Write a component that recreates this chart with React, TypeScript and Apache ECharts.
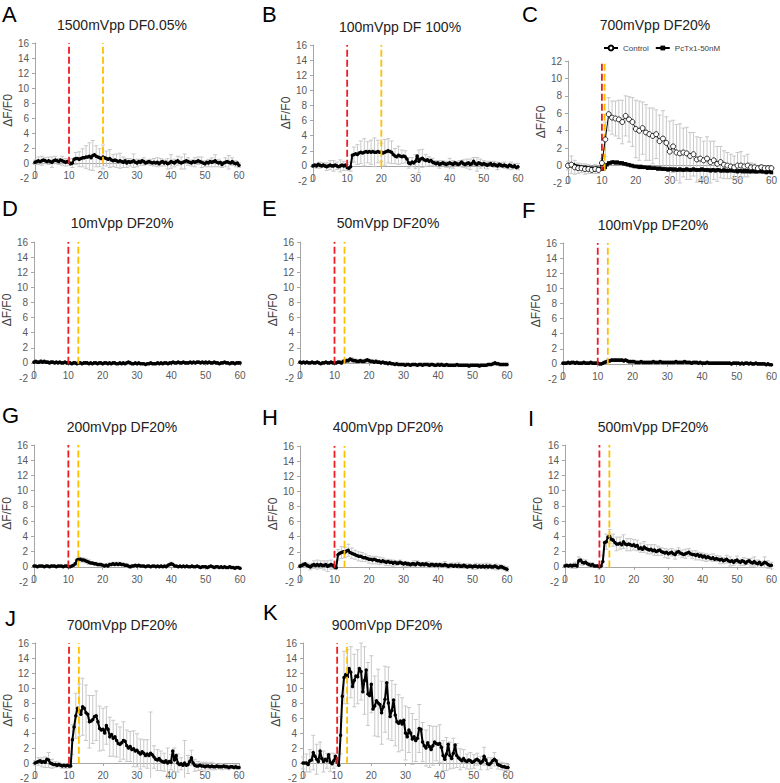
import React, { useEffect, useRef } from "react";
import * as echarts from "echarts";

// ---------------- DATA ----------------
// mean traces sampled every 0.5 s from 0 to 60 s (121 values)
// error values (SD) sampled every 1 s from 0 to 60 s (61 values)
const STEP = 0.5;
const ERR_STEP = 1;

const A_MEAN = [
  0.1, 0.2, 0.3, 0.2, 0.3, 0.4, 0.3, 0.2, 0.3, 0.2,
  0.1, 0.3, 0.4, 0.3, 0.2, 0.4, 0.3, 0.2, 0.1, 0.2,
  0.1, -0.1, 0.0, 0.5, 0.6, 0.6, 0.5, 0.6, 0.7, 0.7,
  0.8, 0.8, 0.9, 0.7, 1.0, 1.1, 0.9, 0.8, 0.7, 0.6,
  0.8, 0.7, 0.6, 0.5, 0.6, 0.4, 0.3, 0.4, 0.3, 0.2,
  0.3, 0.2, 0.1, 0.3, 0.0, 0.2, 0.1, 0.2, 0.3, 0.1,
  0.0, 0.2, 0.1, 0.3, 0.2, 0.0, 0.1, 0.2, 0.1, 0.0,
  0.1, 0.0, 0.1, -0.1, 0.1, 0.2, 0.0, 0.1, -0.1, 0.0,
  0.2, 0.1, 0.0, 0.2, 0.3, 0.1, 0.0, 0.1, 0.2, 0.3,
  0.2, 0.1, 0.0, 0.2, 0.1, 0.2, 0.3, 0.2, 0.1, 0.0,
  -0.1, 0.1, 0.0, 0.2, 0.1, 0.2, 0.3, 0.1, 0.0, 0.1,
  -0.2, 0.0, 0.1, 0.2, 0.1, 0.0, 0.2, 0.0, -0.1, 0.0,
  -0.3,
];
const A_ERR = [
  0.3, 0.5, 0.6, 0.4, 0.5, 0.7, 0.5, 0.4, 0.6, 0.5,
  0.4, 0.6, 0.8, 1.0, 1.2, 1.5, 1.8, 2.0, 1.4, 1.2,
  1.6, 1.0, 1.2, 0.8, 0.9, 1.0, 0.7, 0.6, 0.5, 0.9,
  0.5, 0.4, 0.5, 0.3, 0.4, 0.5, 0.6, 0.5, 0.4, 0.7,
  0.9, 0.5, 0.6, 0.8, 1.0, 0.5, 0.4, 0.6, 0.5, 0.7,
  0.4, 0.5, 0.6, 0.8, 0.5, 0.4, 0.6, 0.9, 0.5, 0.4,
  0.3,
];

const B_MEAN = [
  0.0, 0.1, 0.0, 0.2, 0.1, 0.0, 0.1, 0.0, -0.1, 0.0,
  0.1, 0.0, 0.0, 0.1, 0.0, -0.1, 0.0, 0.1, 0.0, 0.1,
  -0.2, -0.3, -0.1, 1.4, 1.5, 1.6, 1.5, 1.7, 1.8, 1.7,
  1.8, 1.9, 1.8, 1.9, 1.8, 1.9, 1.8, 1.8, 1.9, 1.8,
  1.8, 1.7, 1.8, 1.9, 2.0, 1.9, 1.8, 1.5, 1.3, 1.2,
  1.4, 1.3, 1.2, 1.3, 1.2, 0.9, 0.4, 0.3, 0.5, 0.4,
  0.6, 1.3, 0.6, 0.9, 1.0, 0.8, 0.7, 0.8, 0.6, 0.7,
  0.5, 0.4, 0.3, 0.4, 0.2, 0.3, 0.4, 0.3, 0.2, 0.3,
  0.4, 0.3, 0.2, 0.4, 0.3, 0.2, 0.3, 0.5, 0.3, 0.2,
  0.3, 0.4, 0.2, 0.3, 0.6, 0.3, 0.2, 0.4, 0.3, 0.2,
  0.3, 0.2, 0.1, 0.2, 0.3, 0.1, 0.2, 0.1, 0.0, 0.2,
  0.1, 0.0, 0.1, 0.0, -0.1, 0.1, 0.0, -0.1, 0.0, -0.2,
  -0.1,
];
const B_ERR = [
  0.2, 0.3, 0.4, 0.3, 0.5, 0.6, 0.7, 0.5, 0.8, 0.6,
  0.4, 0.6, 1.0, 1.3, 1.5, 1.8, 1.4, 1.6, 1.9, 1.5,
  1.2, 1.7, 1.6, 1.5, 1.0, 1.2, 0.9, 0.8, 0.7, 0.6,
  0.9, 1.5, 1.2, 0.8, 0.6, 0.5, 0.4, 0.5, 0.3, 0.4,
  0.6, 0.5, 0.3, 0.4, 0.5, 0.6, 0.7, 0.5, 0.9, 0.6,
  0.4, 0.5, 0.3, 0.4, 0.5, 0.3, 0.4, 0.3, 0.5, 0.3,
  0.4,
];

// panel C: control sampled every 1 s, PcTx1 every 0.5 s
const C_CONTROL = [
  0.0, 0.1, -0.2, -0.3, -0.3, -0.4, -0.4, -0.5, -0.4, -0.5,
  0.3, 3.0, 5.9, 5.5, 5.4, 5.3, 5.0, 5.7, 5.3, 5.0,
  4.2, 4.0, 4.3, 3.8, 3.6, 3.4, 3.6, 2.8, 3.1, 2.6,
  1.6, 2.2, 1.5, 1.4, 1.5, 1.4, 1.1, 1.3, 0.7, 0.8,
  0.6, 0.8, 0.4, 0.6, 0.2, 0.4, 0.1, 0.0, -0.1, -0.2,
  0.0, 0.0, -0.1, 0.0, -0.2, -0.2, -0.3, -0.2, -0.3, -0.3,
  -0.3,
];
const C_CONTROL_ERR = [
  0.5, 1.0, 0.8, 0.6, 0.5, 0.6, 0.5, 0.4, 0.5, 0.4,
  0.5, 2.0, 1.9, 1.9, 2.0, 2.2, 2.5, 2.3, 2.6, 2.8,
  3.3, 3.4, 3.0, 3.2, 3.0, 3.2, 2.8, 3.0, 3.2, 3.0,
  3.5, 3.0, 3.2, 3.4, 2.8, 3.0, 2.7, 2.5, 2.6, 2.4,
  2.2, 2.5, 2.4, 2.2, 2.0, 1.8, 1.6, 1.5, 1.4, 1.3,
  1.5, 1.6, 1.2, 1.3, 0.5, 0.4, 0.3, 0.3, 0.2, 0.2,
  0.2,
];
const C_PCTX = [
  0.0, 0.1, 0.0, 0.1, 0.0, -0.1, -0.1, -0.2, -0.2, -0.3,
  -0.2, -0.3, -0.3, -0.4, -0.3, -0.4, -0.4, -0.3, -0.4, -0.4,
  -0.4, -0.4, -0.2, 0.1, 0.3, 0.3, 0.4, 0.4, 0.3, 0.4,
  0.3, 0.3, 0.3, 0.2, 0.2, 0.1, 0.1, 0.0, 0.0, -0.1,
  -0.1, -0.1, -0.2, -0.1, -0.2, -0.2, -0.2, -0.3, -0.2, -0.3,
  -0.3, -0.3, -0.3, -0.4, -0.3, -0.4, -0.4, -0.4, -0.4, -0.5,
  -0.4, -0.4, -0.5, -0.4, -0.5, -0.5, -0.4, -0.5, -0.5, -0.5,
  -0.4, -0.5, -0.5, -0.5, -0.4, -0.5, -0.5, -0.5, -0.5, -0.4,
  -0.5, -0.5, -0.5, -0.5, -0.6, -0.5, -0.5, -0.6, -0.5, -0.5,
  -0.6, -0.6, -0.5, -0.6, -0.6, -0.6, -0.5, -0.6, -0.6, -0.6,
  -0.7, -0.6, -0.6, -0.7, -0.6, -0.7, -0.6, -0.7, -0.7, -0.6,
  -0.7, -0.7, -0.7, -0.6, -0.7, -0.7, -0.7, -0.8, -0.7, -0.7,
  -0.8,
];

const D_MEAN = [
  0.1, 0.2, 0.1, 0.1, 0.2, 0.1, 0.2, 0.1, 0.1, 0.0,
  0.1, 0.1, 0.0, 0.1, 0.0, 0.1, 0.0, 0.0, 0.1, 0.0,
  0.0, 0.0, -0.1, 0.0, 0.0, -0.1, 0.0, 0.0, -0.1, 0.0,
  0.0, 0.0, -0.1, 0.0, -0.1, 0.0, 0.0, -0.1, 0.0, 0.0,
  -0.1, 0.0, 0.0, -0.1, 0.0, -0.1, 0.0, 0.0, -0.1, -0.1,
  0.0, -0.1, 0.0, -0.1, 0.0, 0.1, 0.0, -0.1, -0.1, 0.0,
  -0.1, 0.0, -0.1, -0.1, -0.1, -0.2, -0.1, -0.1, 0.0, -0.1,
  -0.1, -0.1, 0.0, -0.1, 0.0, -0.1, 0.0, 0.0, -0.1, 0.0,
  0.0, 0.1, 0.0, 0.0, 0.1, 0.0, 0.0, 0.1, 0.0, 0.0,
  0.0, 0.1, 0.0, 0.1, 0.0, 0.1, 0.1, 0.0, 0.1, 0.0,
  0.1, 0.0, 0.1, 0.0, 0.0, 0.1, 0.0, 0.0, -0.1, 0.0,
  0.0, 0.1, 0.0, 0.0, -0.1, 0.0, 0.0, -0.1, 0.0, 0.0,
  0.0,
];
const D_ERR = [
  0.1, 0.1, 0.2, 0.1, 0.1, 0.2, 0.1, 0.1, 0.1, 0.1,
  0.1, 0.1, 0.1, 0.2, 0.1, 0.1, 0.1, 0.1, 0.1, 0.1,
  0.1, 0.1, 0.1, 0.1, 0.1, 0.1, 0.1, 0.1, 0.2, 0.1,
  0.1, 0.1, 0.1, 0.1, 0.1, 0.1, 0.1, 0.1, 0.1, 0.1,
  0.1, 0.1, 0.1, 0.1, 0.1, 0.1, 0.1, 0.1, 0.1, 0.1,
  0.1, 0.1, 0.1, 0.1, 0.1, 0.1, 0.1, 0.1, 0.1, 0.1,
  0.1,
];

const E_MEAN = [
  0.1, 0.0, 0.1, 0.0, 0.1, 0.0, 0.0, 0.1, 0.0, 0.0,
  0.1, 0.0, -0.1, 0.0, 0.0, 0.1, 0.0, 0.0, 0.1, 0.0,
  0.0, 0.0, 0.1, 0.1, 0.0, 0.2, 0.2, 0.3, 0.3, 0.5,
  0.4, 0.3, 0.3, 0.2, 0.2, 0.3, 0.2, 0.2, 0.3, 0.4,
  0.3, 0.2, 0.2, 0.1, 0.2, 0.1, 0.1, 0.0, 0.1, 0.0,
  0.0, -0.1, 0.0, -0.1, -0.1, -0.2, -0.1, -0.2, -0.2, -0.2,
  -0.2, -0.3, -0.2, -0.2, -0.3, -0.2, -0.2, -0.2, -0.3, -0.2,
  -0.2, -0.3, -0.2, -0.2, -0.2, -0.3, -0.2, -0.2, -0.3, -0.3,
  -0.2, -0.3, -0.2, -0.3, -0.3, -0.2, -0.3, -0.3, -0.3, -0.3,
  -0.3, -0.2, -0.3, -0.3, -0.3, -0.3, -0.3, -0.3, -0.4, -0.3,
  -0.3, -0.3, -0.3, -0.3, -0.4, -0.3, -0.3, -0.3, -0.3, -0.2,
  -0.2, -0.2, -0.1, 0.0, -0.1, -0.1, -0.2, -0.2, -0.2, -0.2,
  -0.2,
];
const E_ERR = [
  0.1, 0.1, 0.1, 0.1, 0.1, 0.1, 0.1, 0.1, 0.1, 0.1,
  0.1, 0.1, 0.2, 0.2, 0.3, 0.3, 0.2, 0.2, 0.2, 0.2,
  0.2, 0.2, 0.2, 0.2, 0.1, 0.2, 0.2, 0.1, 0.2, 0.2,
  0.2, 0.2, 0.2, 0.2, 0.2, 0.2, 0.2, 0.2, 0.2, 0.2,
  0.2, 0.2, 0.2, 0.2, 0.2, 0.2, 0.2, 0.2, 0.2, 0.2,
  0.2, 0.2, 0.2, 0.2, 0.2, 0.2, 0.2, 0.2, 0.2, 0.2,
  0.2,
];

const F_MEAN = [
  0.1, 0.1, 0.1, 0.2, 0.1, 0.2, 0.2, 0.1, 0.2, 0.1,
  0.1, 0.1, 0.2, 0.1, 0.1, 0.1, 0.2, 0.1, 0.1, 0.1,
  0.1, 0.0, 0.0, 0.1, 0.2, 0.3, 0.4, 0.4, 0.5, 0.5,
  0.5, 0.5, 0.5, 0.5, 0.5, 0.4, 0.5, 0.4, 0.3, 0.3,
  0.3, 0.3, 0.2, 0.2, 0.2, 0.3, 0.2, 0.2, 0.2, 0.2,
  0.2, 0.2, 0.3, 0.2, 0.2, 0.2, 0.3, 0.2, 0.2, 0.2,
  0.2, 0.2, 0.2, 0.2, 0.2, 0.3, 0.2, 0.2, 0.2, 0.2,
  0.3, 0.2, 0.2, 0.2, 0.1, 0.2, 0.2, 0.2, 0.1, 0.2,
  0.1, 0.1, 0.1, 0.2, 0.1, 0.1, 0.1, 0.1, 0.1, 0.1,
  0.1, 0.1, 0.1, 0.1, 0.1, 0.1, 0.1, 0.0, 0.1, 0.1,
  0.1, 0.1, 0.0, 0.1, 0.0, 0.1, 0.1, 0.0, 0.1, 0.0,
  0.0, 0.1, 0.0, 0.0, 0.0, 0.0, 0.0, -0.1, 0.0, -0.1,
  -0.1,
];
const F_ERR = [
  0.1, 0.1, 0.1, 0.1, 0.1, 0.1, 0.1, 0.1, 0.1, 0.1,
  0.1, 0.1, 0.2, 0.2, 0.2, 0.2, 0.2, 0.2, 0.2, 0.2,
  0.2, 0.1, 0.1, 0.1, 0.1, 0.1, 0.1, 0.1, 0.1, 0.1,
  0.1, 0.1, 0.1, 0.1, 0.1, 0.1, 0.1, 0.1, 0.1, 0.1,
  0.1, 0.1, 0.1, 0.1, 0.1, 0.1, 0.1, 0.1, 0.1, 0.1,
  0.1, 0.1, 0.1, 0.1, 0.1, 0.1, 0.1, 0.1, 0.1, 0.1,
  0.1,
];

const G_MEAN = [
  0.1, 0.1, 0.0, 0.1, 0.1, 0.1, 0.0, 0.1, 0.1, 0.0,
  0.1, 0.1, 0.1, 0.0, 0.1, 0.1, 0.1, 0.0, 0.1, 0.1,
  0.0, 0.0, 0.1, 0.2, 0.4, 0.9, 1.0, 1.0, 0.9, 0.9,
  0.8, 0.7, 0.6, 0.5, 0.5, 0.4, 0.4, 0.3, 0.3, 0.3,
  0.2, 0.1, 0.2, 0.1, 0.3, 0.3, 0.4, 0.3, 0.4, 0.3,
  0.4, 0.3, 0.3, 0.2, 0.2, 0.1, 0.0, 0.1, 0.1, 0.2,
  0.1, 0.2, 0.1, 0.1, 0.1, 0.0, 0.1, 0.1, 0.0, 0.1,
  0.1, 0.0, 0.1, 0.0, 0.1, 0.0, 0.1, 0.0, 0.2, 0.3,
  0.4, 0.3, 0.1, 0.1, 0.0, 0.1, 0.0, 0.1, 0.0, 0.1,
  0.0, 0.0, 0.1, 0.0, 0.0, 0.1, 0.0, -0.1, 0.0, 0.0,
  0.0, -0.1, 0.0, 0.1, 0.0, -0.1, 0.0, 0.0, -0.1, 0.0,
  -0.1, 0.0, -0.1, -0.1, 0.0, -0.1, -0.1, -0.2, -0.1, -0.1,
  -0.2,
];
const G_ERR = [
  0.1, 0.1, 0.1, 0.1, 0.1, 0.1, 0.1, 0.1, 0.1, 0.1,
  0.1, 0.1, 0.2, 0.3, 0.3, 0.3, 0.3, 0.2, 0.2, 0.2,
  0.2, 0.2, 0.2, 0.2, 0.2, 0.2, 0.2, 0.2, 0.2, 0.2,
  0.1, 0.1, 0.1, 0.1, 0.1, 0.1, 0.1, 0.1, 0.1, 0.1,
  0.2, 0.1, 0.1, 0.1, 0.1, 0.1, 0.1, 0.1, 0.1, 0.1,
  0.1, 0.1, 0.1, 0.1, 0.1, 0.1, 0.1, 0.1, 0.1, 0.1,
  0.1,
];

const H_MEAN = [
  0.1, 0.2, 0.3, 0.4, 0.2, 0.1, 0.0, 0.2, 0.3, 0.2,
  0.3, 0.2, 0.3, 0.2, 0.2, 0.3, 0.1, 0.2, 0.3, 0.2,
  0.0, -0.1, 1.6, 1.8, 1.9, 2.0, 1.9, 2.1, 2.2, 1.9,
  1.8, 1.7, 1.6, 1.5, 1.4, 1.4, 1.3, 1.2, 1.2, 1.1,
  1.0, 1.0, 0.9, 1.0, 0.9, 0.8, 0.8, 0.7, 0.8, 0.7,
  0.6, 0.7, 0.6, 0.6, 0.5, 0.6, 0.5, 0.5, 0.6, 0.5,
  0.4, 0.5, 0.4, 0.4, 0.3, 0.4, 0.4, 0.3, 0.5, 0.4,
  0.3, 0.4, 0.3, 0.4, 0.3, 0.2, 0.3, 0.3, 0.2, 0.3,
  0.2, 0.3, 0.2, 0.2, 0.3, 0.2, 0.1, 0.2, 0.2, 0.1,
  0.2, 0.1, 0.2, 0.1, 0.1, 0.2, 0.1, 0.0, 0.1, 0.1,
  0.0, 0.1, 0.1, 0.0, 0.1, 0.0, 0.1, 0.0, 0.1, 0.0,
  0.1, 0.0, 0.0, 0.1, 0.0, -0.1, 0.0, 0.0, -0.1, -0.2,
  -0.3,
];
const H_ERR = [
  0.2, 0.3, 0.3, 0.4, 0.5, 0.6, 0.5, 0.6, 0.7, 0.6,
  0.3, 0.7, 0.8, 0.7, 0.8, 0.7, 0.6, 0.6, 0.6, 0.5,
  0.5, 0.5, 0.5, 0.5, 0.4, 0.4, 0.4, 0.4, 0.3, 0.3,
  0.3, 0.3, 0.3, 0.4, 0.3, 0.3, 0.3, 0.4, 0.3, 0.3,
  0.3, 0.3, 0.4, 0.3, 0.3, 0.3, 0.4, 0.3, 0.3, 0.3,
  0.3, 0.4, 0.3, 0.3, 0.4, 0.3, 0.3, 0.4, 0.3, 0.3,
  0.3,
];

const I_MEAN = [
  0.1, 0.2, 0.1, 0.2, 0.1, 0.2, 0.2, 0.1, 0.8, 0.9,
  0.6, 0.5, 0.6, 0.4, 0.3, 0.2, 0.3, 0.1, 0.1, 0.1,
  0.0, 0.1, 0.7, 3.2, 3.3, 3.9, 4.0, 3.6, 3.5, 3.2,
  3.0, 3.0, 3.1, 2.9, 3.3, 3.0, 2.9, 3.0, 2.9, 2.8,
  2.9, 2.7, 2.8, 2.4, 2.5, 2.3, 2.6, 2.4, 2.3, 2.2,
  2.3, 2.1, 2.2, 2.0, 2.1, 2.2, 2.0, 1.9, 1.8, 1.9,
  1.7, 1.8, 1.9, 1.7, 1.6, 1.9, 2.0, 1.8, 1.7, 1.6,
  1.7, 1.8, 1.9, 1.7, 1.6, 1.6, 1.5, 1.6, 1.4, 1.5,
  1.3, 1.4, 1.2, 1.3, 1.2, 1.1, 1.2, 1.0, 1.1, 1.0,
  0.9, 1.0, 0.8, 0.9, 1.0, 0.8, 0.7, 0.8, 0.6, 0.8,
  0.9, 0.7, 0.6, 0.8, 0.7, 0.5, 0.7, 0.8, 0.6, 0.5,
  0.7, 0.5, 0.4, 0.6, 0.3, 0.4, 0.6, 0.5, 0.3, 0.2,
  0.2,
];
const I_ERR = [
  0.2, 0.2, 0.3, 0.4, 0.5, 0.4, 0.3, 0.3, 0.2, 0.2,
  0.3, 0.8, 1.0, 0.9, 0.8, 0.9, 0.8, 0.9, 0.8, 0.8,
  0.7, 0.7, 0.6, 0.7, 0.6, 0.6, 0.7, 0.6, 0.5, 0.6,
  0.6, 0.5, 0.6, 0.5, 0.5, 0.6, 0.5, 0.5, 0.6, 0.5,
  0.5, 0.5, 0.4, 0.5, 0.4, 0.5, 0.4, 0.5, 0.6, 0.4,
  0.5, 0.4, 0.5, 0.4, 0.5, 0.6, 0.5, 0.4, 0.7, 0.5,
  0.4,
];

const J_MEAN = [
  0.0, 0.1, 0.2, 0.3, 0.1, 0.2, 0.1, 0.5, 0.4, 0.0,
  -0.1, -0.2, -0.2, -0.3, -0.2, -0.3, -0.4, -0.3, -0.4, -0.3,
  -0.4, -0.4, 3.1, 4.8, 6.3, 7.3, 7.0, 6.5, 7.5, 7.3,
  6.7, 6.5, 5.5, 5.6, 5.8, 6.2, 6.3, 5.5, 4.6, 4.4,
  4.5, 4.0, 5.0, 4.5, 3.5, 3.8, 3.3, 3.5, 3.0, 2.6,
  2.5, 2.7, 3.0, 2.9, 2.3, 2.0, 2.2, 1.8, 1.9, 1.6,
  1.7, 1.4, 1.2, 1.5, 1.3, 1.0, 1.2, 1.0, 1.3, 1.1,
  0.8, 0.5, 0.4, 0.6, 0.3, 0.2, 0.1, 0.3, 0.0, 0.2,
  0.1, 1.6, 0.4, 1.0, 0.0, -0.2, -0.1, -0.3, 0.0, -0.3,
  -0.2, 0.2, 0.7, 0.0, -0.3, -0.4, -0.4, -0.3, -0.4, -0.4,
  -0.5, -0.4, -0.4, -0.5, -0.4, -0.5, -0.5, -0.4, -0.5, -0.5,
  -0.5, -0.4, -0.5, -0.5, -0.6, -0.5, -0.5, -0.6, -0.5, -0.6,
  -0.6,
];
const J_ERR = [
  0.3, 0.5, 0.6, 0.7, 1.0, 0.6, 0.4, 0.3, 0.3, 0.3,
  0.3, 2.0, 3.0, 3.5, 3.8, 3.7, 3.5, 3.2, 3.3, 3.0,
  2.8, 2.5, 2.6, 2.4, 2.2, 2.3, 2.5, 2.1, 2.0, 2.4,
  2.2, 2.0, 1.8, 1.9, 5.5, 1.5, 1.4, 1.3, 1.2, 2.0,
  1.0, 1.6, 1.2, 0.8, 3.0, 1.2, 1.0, 0.8, 0.6, 0.5,
  0.6, 0.4, 0.5, 0.4, 0.3, 0.4, 0.3, 0.3, 0.2, 0.3,
  0.2,
];

const K_MEAN = [
  0.0, 0.0, 0.0, -0.2, 0.3, 0.4, 1.4, 0.9, 0.5, 0.2,
  1.6, 0.6, 0.2, 0.5, 0.3, 1.1, 0.1, -0.1, 0.3, 0.9,
  0.1, -0.3, 3.7, 8.9, 11.4, 11.8, 11.5, 12.6, 12.1, 10.2,
  11.0, 11.6, 11.5, 12.6, 12.2, 9.5, 11.0, 12.4, 9.2, 9.0,
  10.5, 7.2, 7.6, 8.3, 8.0, 7.8, 6.7, 7.5, 8.5, 10.7,
  8.0, 6.2, 7.0, 8.4, 6.4, 5.5, 5.3, 5.6, 5.2, 5.7,
  4.0, 3.5, 4.4, 4.0, 3.2, 3.5, 3.0, 3.3, 4.6, 4.5,
  2.8, 2.3, 2.0, 2.7, 2.2, 1.8, 2.3, 2.8, 2.6, 2.5,
  2.6, 2.1, 1.0, 0.5, 1.2, 2.5, 1.0, 0.6, 1.3, 2.4,
  1.0, 0.7, 0.5, 0.3, 0.6, 0.3, 0.2, 0.4, 0.3, 0.1,
  0.2, 0.4, 0.5, 0.3, 0.0, 0.2, 0.9, 0.4, -0.1, -0.2,
  0.0, 0.3, 0.5, 0.3, -0.2, -0.3, -0.4, -0.5, -0.5, -0.6,
  -0.6,
];
const K_ERR = [
  0.8, 1.2, 1.5, 2.3, 2.0, 1.2, 1.4, 1.0, 1.2, 1.0,
  0.5, 2.5, 3.5, 3.6, 3.4, 3.5, 3.6, 3.8, 4.5, 4.2,
  3.8, 4.0, 4.5, 4.2, 4.4, 4.8, 4.0, 4.1, 3.8, 3.5,
  3.6, 3.0, 3.4, 2.8, 3.2, 2.6, 2.4, 2.8, 2.6, 2.3,
  2.5, 2.0, 2.2, 1.8, 2.0, 1.6, 1.4, 1.2, 1.0, 1.1,
  0.9, 0.8, 0.9, 1.2, 0.8, 0.7, 0.9, 0.6, 0.5, 0.5,
  0.4,
];

const LETTERS = ["A", "B", "C", "D", "E", "F", "G", "H", "I", "J", "K"];
const TITLES = [
  "1500mVpp DF0.05%", "100mVpp DF 100%", "700mVpp DF20%",
  "10mVpp DF20%", "50mVpp DF20%", "100mVpp DF20%",
  "200mVpp DF20%", "400mVpp DF20%", "500mVpp DF20%",
  "700mVpp DF20%", "900mVpp DF20%",
];
const MEANS = [A_MEAN, B_MEAN, C_PCTX, D_MEAN, E_MEAN, F_MEAN, G_MEAN, H_MEAN, I_MEAN, J_MEAN, K_MEAN];
const ERRS = [A_ERR, B_ERR, null, D_ERR, E_ERR, F_ERR, G_ERR, H_ERR, I_ERR, J_ERR, K_ERR];
const RED_X = [10, 10, 10, 10, 10, 10, 10, 10, 10, 10, 10];
const ORANGE_X = [20, 20, 10.8, 12.9, 12.9, 12.9, 12.9, 12.9, 12.9, 12.9, 12.9];
const Y_MAX = [16, 16, 12, 16, 16, 16, 16, 16, 16, 16, 16];
const Y_MIN = -2;
const Y_NAME = "ΔF/F0";
const LEGEND_NAMES = ["Control", "PcTx1-50nM"];

// ---------------- LAYOUT ----------------
const LAYOUT = [
  { left: 35, top: 43, width: 204, height: 135, lx: 2, ly: 14, tx: 122, ty: 25 },
  { left: 313, top: 45, width: 205, height: 136, lx: 262, ly: 14, tx: 400, ty: 27 },
  { left: 568, top: 61, width: 205, height: 122, lx: 522, ly: 14, tx: 655, ty: 25 },
  { left: 33, top: 242, width: 207, height: 136, lx: 2, ly: 208, tx: 122, ty: 223 },
  { left: 300, top: 242, width: 207, height: 136, lx: 262, ly: 208, tx: 388, ty: 223 },
  { left: 563, top: 243, width: 209, height: 136, lx: 522, ly: 210, tx: 653, ty: 225 },
  { left: 33, top: 445, width: 207, height: 137, lx: 2, ly: 415, tx: 122, ty: 427 },
  { left: 300, top: 446, width: 207, height: 136, lx: 262, ly: 417, tx: 388, ty: 427 },
  { left: 565, top: 445, width: 207, height: 137, lx: 528, ly: 418, tx: 653, ty: 427 },
  { left: 35, top: 643, width: 204, height: 136, lx: 5, ly: 618, tx: 122, ty: 625 },
  { left: 303, top: 643, width: 205, height: 136, lx: 263, ly: 612, tx: 387, ty: 625 },
];

const FONT = "'Liberation Sans', Arial, sans-serif";
const AXIS_GRAY = "#a6a6a6";
const LABEL_GRAY = "#595959";
const ERR_GRAY = "#c8c8c8";

function errorRenderer(yMin: number, yMax: number) {
  return (_params: any, api: any) => {
    const x = api.value(0);
    const m = api.value(1);
    const e = api.value(2);
    const hiV = Math.min(yMax, m + e);
    const loV = Math.max(yMin, m - e);
    const top = api.coord([x, hiV]);
    const bot = api.coord([x, loV]);
    const c = 2;
    const style = { stroke: ERR_GRAY, lineWidth: 1 };
    const children: any[] = [
      { type: "line", shape: { x1: top[0], y1: top[1], x2: bot[0], y2: bot[1] }, style },
    ];
    if (hiV === m + e) children.push({ type: "line", shape: { x1: top[0] - c, y1: top[1], x2: top[0] + c, y2: top[1] }, style });
    if (loV === m - e) children.push({ type: "line", shape: { x1: bot[0] - c, y1: bot[1], x2: bot[0] + c, y2: bot[1] }, style });
    return { type: "group", children };
  };
}

function buildOption() {
  const grid: any[] = [];
  const xAxis: any[] = [];
  const yAxis: any[] = [];
  const series: any[] = [];
  const graphic: any[] = [];

  LAYOUT.forEach((L, i) => {
    const yMax = Y_MAX[i];
    grid.push({ left: L.left, top: L.top, width: L.width, height: L.height, containLabel: false });
    // axis line at y = 0 (ticks only)
    xAxis.push({
      type: "value", gridIndex: i, min: 0, max: 60, interval: 10, position: "bottom",
      axisLine: { show: true, onZero: true, lineStyle: { color: AXIS_GRAY, width: 1 } },
      axisTick: { show: true, length: 3, lineStyle: { color: AXIS_GRAY } },
      axisLabel: { show: false }, splitLine: { show: false },
    });
    // labels at the bottom
    xAxis.push({
      type: "value", gridIndex: i, min: 0, max: 60, interval: 10, position: "bottom",
      axisLine: { show: false, onZero: false }, axisTick: { show: false },
      axisLabel: { show: true, margin: -8, fontSize: 10, color: LABEL_GRAY, fontFamily: FONT },
      splitLine: { show: false },
    });
    yAxis.push({
      type: "value", gridIndex: i, min: Y_MIN, max: yMax, interval: 2,
      axisLine: { show: true, onZero: false, lineStyle: { color: AXIS_GRAY, width: 1 } },
      axisTick: { show: true, length: 3, lineStyle: { color: AXIS_GRAY } },
      axisLabel: { fontSize: 10, color: LABEL_GRAY, fontFamily: FONT, margin: 6 },
      splitLine: { show: false },
      name: Y_NAME, nameLocation: "middle", nameRotate: 90, nameGap: 14,
      nameTextStyle: { fontSize: 12, color: "#404040", fontFamily: FONT },
    });
    const xi = i * 2;
    const ratio = Math.round(ERR_STEP / STEP);
    const mean = MEANS[i];
    const err = ERRS[i];
    if (err) {
      series.push({
        type: "custom", xAxisIndex: xi, yAxisIndex: i, silent: true, z: 2,
        renderItem: errorRenderer(Y_MIN, yMax),
        data: err.map((e, k) => [k * ERR_STEP, mean[k * ratio], e]),
      });
    }
    if (i === 2) {
      series.push({
        type: "custom", xAxisIndex: xi, yAxisIndex: i, silent: true, z: 2,
        renderItem: errorRenderer(Y_MIN, yMax),
        data: C_CONTROL_ERR.map((e, k) => [k * ERR_STEP, C_CONTROL[k], e]),
      });
    }
    series.push({
      type: "line", name: i === 2 ? LEGEND_NAMES[1] : undefined,
      xAxisIndex: xi, yAxisIndex: i, silent: true, z: 3,
      data: mean.map((v, k) => [k * STEP, v]),
      symbol: i === 2 ? "rect" : "circle", symbolSize: 3.5, showSymbol: true,
      lineStyle: { color: "#000", width: 2 }, itemStyle: { color: "#000" },
    });
    if (i === 2) {
      series.push({
        type: "line", name: LEGEND_NAMES[0], xAxisIndex: xi, yAxisIndex: i, silent: true, z: 5,
        data: C_CONTROL.map((v, k) => [k * ERR_STEP, v]),
        symbol: "circle", symbolSize: 5,
        lineStyle: { color: "#000", width: 1 },
        itemStyle: { color: "#fff", borderColor: "#000", borderWidth: 0.8 },
      });
    }
    const lineLo = i === 2 ? -0.6 : -0.1;
    series.push({
      type: "line", xAxisIndex: xi, yAxisIndex: i, silent: true, z: 4, symbol: "none",
      data: [[RED_X[i], lineLo], [RED_X[i], yMax]],
      lineStyle: { color: "#ee1c25", width: 1.8, type: [7, 3] },
    });
    series.push({
      type: "line", xAxisIndex: xi, yAxisIndex: i, silent: true, z: 4, symbol: "none",
      data: [[ORANGE_X[i], lineLo], [ORANGE_X[i], yMax]],
      lineStyle: { color: "#ffc000", width: 1.8, type: [7, 3] },
    });

    graphic.push({
      type: "text", x: L.lx, y: L.ly,
      style: { text: LETTERS[i], font: `22px ${FONT}`, fill: "#000", align: "left", verticalAlign: "middle" },
    });
    graphic.push({
      type: "text", x: L.tx, y: L.ty,
      style: { text: TITLES[i], font: `14px ${FONT}`, fill: "#222", align: "center", verticalAlign: "middle" },
    });
  });

  return {
    animation: false,
    backgroundColor: "#fff",
    textStyle: { fontFamily: FONT },
    grid, xAxis, yAxis, series, graphic,
    legend: {
      data: [LEGEND_NAMES[0], LEGEND_NAMES[1]],
      left: 598, top: 39, itemGap: 6, itemWidth: 14, itemHeight: 6,
      textStyle: { fontSize: 8, color: "#404040", fontFamily: FONT },
      selectedMode: false,
    },
  };
}

export default function App() {
  const ref = useRef<HTMLDivElement>(null);
  useEffect(() => {
    if (!ref.current) return;
    const chart = echarts.init(ref.current, undefined, { renderer: "svg" });
    chart.setOption(buildOption() as any);
    return () => chart.dispose();
  }, []);
  return (
    <div
      ref={ref}
      style={{ position: "fixed", left: 0, top: 0, width: 780, height: 783, background: "#fff" }}
    />
  );
}
